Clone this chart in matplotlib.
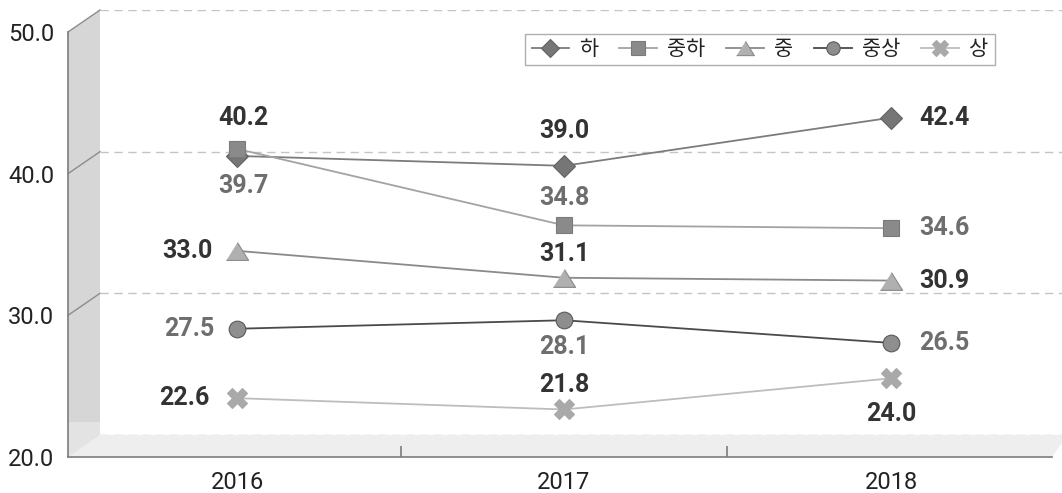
import matplotlib.pyplot as plt
from matplotlib.patches import Polygon, Rectangle

plt.rcParams['font.family'] = ['Roboto', 'Noto Sans CJK KR', 'DejaVu Sans']

# data
years = ['2016', '2017', '2018']
series_names = ['하', '중하', '중', '중상', '상']
ha = [39.7, 39.0, 42.4]
jungha = [40.2, 34.8, 34.6]
jung = [33.0, 31.1, 30.9]
jungsang = [27.5, 28.1, 26.5]
sang = [22.6, 21.8, 24.0]
yticks = [20, 30, 40, 50]

DARK = '#333333'
GRAY = '#6e6e6e'

# style for each series: marker, size, fill, edge, line colour
styles = [
    dict(marker='D', ms=11, mfc='#767676', mec='#626262', color='#7c7c7c'),
    dict(marker='s', ms=12, mfc='#8a8a8a', mec='#7a7a7a', color='#a3a3a3'),
    dict(marker=[(-1, -0.8), (1, -0.8), (0, 0.8)], ms=16, mfc='#b0b0b0', mec='#8a8a8a', color='#8a8a8a'),
    dict(marker='o', ms=12, mfc='#8e8e8e', mec='#5a5a5a', color='#4a4a4a'),
    dict(marker='X', ms=15, mfc='#a9a9a9', mec='#a9a9a9', color='#bdbdbd'),
]
# label placement (dx, dy in pixels, ha) and colour per point
label_pos = [
    [(6, -30, 'center'), (0, 35, 'center'), (28, 0, 'left')],
    [(6, 31, 'center'), (0, 27, 'center'), (28, 0, 'left')],
    [(-25, 0, 'right'), (0, 24, 'center'), (28, 0, 'left')],
    [(-23, 0, 'right'), (0, -27, 'center'), (28, 0, 'left')],
    [(-28, 0, 'right'), (0, 25, 'center'), (0, -36, 'center')],
]
label_col = [
    [GRAY, DARK, DARK],
    [DARK, GRAY, GRAY],
    [DARK, DARK, DARK],
    [GRAY, GRAY, GRAY],
    [DARK, DARK, DARK],
]

W, H = 1062, 493
fig = plt.figure(figsize=(W / 100, H / 100), dpi=100)

# pseudo-3d geometry (pixels)
FX, BX = 68, 100          # left wall front / back x
FY0, BY0 = 457, 435       # y of value 20, front / back
TOPB = 10                 # back y of value 50
unit = (BY0 - TOPB) / 30
FRONT_RIGHT = 1052

def fy(px):
    return 1 - px / H

# background: side wall and floor
bg = fig.add_axes([0, 0, 1, 1], zorder=0)
bg.set_xlim(0, W)
bg.set_ylim(H, 0)
bg.axis('off')
bg.add_patch(Polygon([(FX, FY0 - 30 * unit), (BX, TOPB), (BX, BY0), (FX, FY0)],
                     closed=True, fc='#d6d6d6', ec='none'))
bg.add_patch(Rectangle((FX, BY0 - 13), BX - FX, FY0 - BY0 + 13, fc='#e3e3e3', ec='none'))
bg.add_patch(Polygon([(FX, FY0), (BX, BY0), (W, BY0), (W, BY0 + 8), (FRONT_RIGHT, FY0)],
                     closed=True, fc='#eeeeee', ec='none'))
for v in yticks[1:]:
    bg.plot([FX, BX], [FY0 - (v - 20) * unit, BY0 - (v - 20) * unit], color='#8c8c8c', lw=1)
bg.plot([FX, FX], [FY0 - 30 * unit, FY0], color='#7c7c7c', lw=1.2)
bg.plot([FX, FRONT_RIGHT], [FY0, FY0], color='#7c7c7c', lw=1.2)

# back wall with the data
ax = fig.add_axes([BX / W, fy(BY0), (W - BX) / W, (BY0 - TOPB) / H], zorder=1)
ax.patch.set_alpha(0)
xlim = (-0.419, 2.523)
ax.set_xlim(*xlim)
ax.set_ylim(20, 50)
ax.set_yticks(yticks)
ax.yaxis.grid(True, color='#c4c4c4', ls=(0, (6, 4)), lw=1)
ax.set_xticks([])
ax.tick_params(left=False, labelleft=False)
for s in ax.spines.values():
    s.set_visible(False)

all_series = [ha, jungha, jung, jungsang, sang]
x = list(range(len(years)))
handles = []
for vals, st, name, pos, cols in zip(all_series, styles, series_names, label_pos, label_col):
    line, = ax.plot(x, vals, lw=1.3, mew=0.8, label=name, clip_on=False, **st)
    handles.append(line)
    for xi, v, (dx, dy, ha_), c in zip(x, vals, pos, cols):
        ax.annotate(f'{v:.1f}', (xi, v), xytext=(dx, dy), textcoords='offset pixels',
                    ha=ha_, va='center', fontsize=18, fontweight='bold', color=c)

# front plane: tick labels
fa = fig.add_axes([BX / W, fy(FY0), (W - BX) / W, 30 * unit / H], zorder=0.5)
fa.patch.set_alpha(0)
fa.set_xlim(*xlim)
fa.set_ylim(20, 50)
fa.set_yticks(yticks)
fa.set_yticklabels([f'{v:.1f}' for v in yticks])
fa.set_xticks(x)
fa.set_xticklabels(years)
fa.set_xticks([0.5, 1.5], minor=True)
fa.tick_params(axis='y', length=0, pad=33, labelsize=17, labelcolor='#222222')
fa.tick_params(axis='x', which='major', length=0, pad=10, labelsize=17, labelcolor='#222222')
fa.tick_params(axis='x', which='minor', direction='in', length=8, width=1.2, color='#7c7c7c')
for s in fa.spines.values():
    s.set_visible(False)

leg = fig.legend(handles=handles, loc='center', bbox_to_anchor=(760 / W, fy(49.5)),
                 ncol=5, fontsize=15, frameon=True, fancybox=False, markerscale=0.8,
                 handlelength=1.8, handletextpad=0.5, columnspacing=1.0,
                 borderpad=0.3, labelcolor='#222222')
leg.get_frame().set_edgecolor('#9a9a9a')
leg.get_frame().set_linewidth(1)

fig.savefig('out.png', dpi=100)
